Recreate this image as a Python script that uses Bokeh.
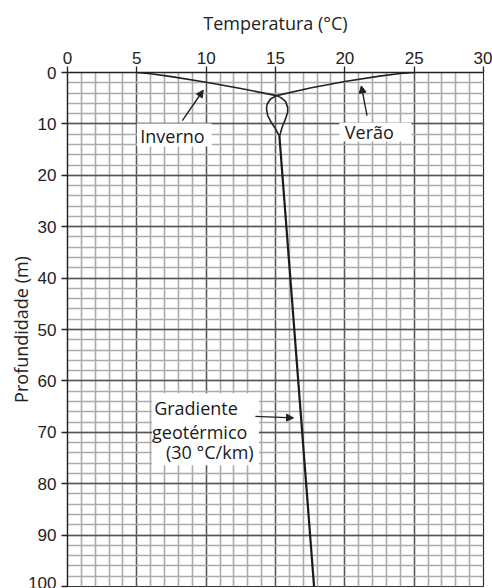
from bokeh.plotting import figure
from bokeh.models import Range1d, SingleIntervalTicker, Label, Arrow, NormalHead
from bokeh.embed import file_html
from bokeh.resources import INLINE

# ---- data ----
x_ticks = [0, 5, 10, 15, 20, 25, 30]
y_ticks = [0, 10, 20, 30, 40, 50, 60, 70, 80, 90, 100]

winter_temp = [5.0, 6.0, 7.5, 10.0, 12.5, 15.07, 15.36, 15.72, 15.88, 15.88, 15.72, 15.48, 15.3]
winter_depth = [0.0, 0.25, 0.8, 1.9, 3.1, 4.5, 4.84, 5.62, 6.78, 7.75, 9.03, 10.66, 12.3]

summer_temp = [25.0, 24.0, 22.5, 20.0, 17.5, 15.07, 14.64, 14.40, 14.35, 14.44, 14.69, 15.0, 15.26]
summer_depth = [0.0, 0.2, 0.7, 1.75, 3.0, 4.5, 5.16, 6.12, 7.10, 8.39, 9.69, 10.97, 12.3]

geo_temp = [15.28, 17.78]
geo_depth = [12.3, 100.0]

label_winter = "Inverno"
label_summer = "Verão"
label_geo = ["Gradiente", "geotérmico", "(30 °C/km)"]

# ---- figure ----
p = figure(width=492, height=588, output_backend="svg", toolbar_location=None,
           x_range=Range1d(0, 30), y_range=Range1d(100, 0),
           x_axis_location="above", min_border_left=67, min_border_right=9,
           min_border_top=72, min_border_bottom=2)
p.background_fill_color = "white"
p.border_fill_color = "white"
p.outline_line_color = "#333333"
p.outline_line_width = 1.2

p.xaxis.ticker = SingleIntervalTicker(interval=5, num_minor_ticks=5)
p.yaxis.ticker = SingleIntervalTicker(interval=10, num_minor_ticks=5)
p.xgrid.ticker = p.xaxis.ticker
p.ygrid.ticker = p.yaxis.ticker

for g in (p.xgrid, p.ygrid):
    g.grid_line_color = "#555555"
    g.grid_line_width = 1.3
    g.minor_grid_line_color = "#ababab"
    g.minor_grid_line_width = 1.6

for ax in (p.xaxis, p.yaxis):
    ax.axis_line_color = "#222222"
    ax.axis_line_width = 1.3
    ax.major_tick_line_color = "#222222"
    ax.major_tick_line_width = 1.3
    ax.major_tick_out = 6
    ax.major_tick_in = 0
    ax.minor_tick_out = 0
    ax.minor_tick_in = 0
    ax.major_label_text_font = "Liberation Sans"
    ax.major_label_text_font_size = "17px"
    ax.major_label_text_color = "#222222"
    ax.axis_label_text_font = "Open Sans"
    ax.axis_label_text_font_size = "18px"
    ax.axis_label_text_font_style = "normal"
    ax.axis_label_text_color = "#222222"

p.xaxis.axis_label = "Temperatura (°C)"
p.yaxis.axis_label = "Profundidade (m)"
p.xaxis.major_label_standoff = 3
p.xaxis.axis_label_standoff = 14
p.yaxis.major_label_standoff = 5
p.yaxis.axis_label_standoff = -8

# ---- curves ----
p.line(winter_temp, winter_depth, line_color="#222222", line_width=1.6)
p.line(summer_temp, summer_depth, line_color="#222222", line_width=1.6)
p.line(geo_temp, geo_depth, line_color="#1a1a1a", line_width=2.2)

# ---- label boxes ----
p.quad(left=[5.0, 19.6, 6.1], right=[10.4, 24.8, 13.8],
       top=[9.9, 9.8, 62.4], bottom=[14.4, 13.4, 76.4],
       fill_color="white", line_color=None)

def txt(x, y, s):
    p.add_layout(Label(x=x, y=y, text=s, text_font="Open Sans", text_font_size="18px",
                       text_color="#1a1a1a", text_baseline="middle", text_align="left"))

txt(5.25, 12.4, label_winter)
txt(20.0, 11.6, label_summer)
txt(6.25, 65.3, label_geo[0])
txt(6.1, 70.0, label_geo[1])
txt(7.1, 73.9, label_geo[2])

# ---- arrows ----
def arr(x0, y0, x1, y1):
    p.add_layout(Arrow(x_start=x0, y_start=y0, x_end=x1, y_end=y1,
                       line_color="#222222", line_width=1.4,
                       end=NormalHead(size=7, fill_color="#222222", line_color="#222222")))

arr(8.28, 9.36, 9.79, 3.45)
arr(21.6, 8.4, 21.19, 2.6)
arr(13.55, 66.9, 16.3, 67.2)

open("out.html", "w").write(file_html(p, INLINE))
